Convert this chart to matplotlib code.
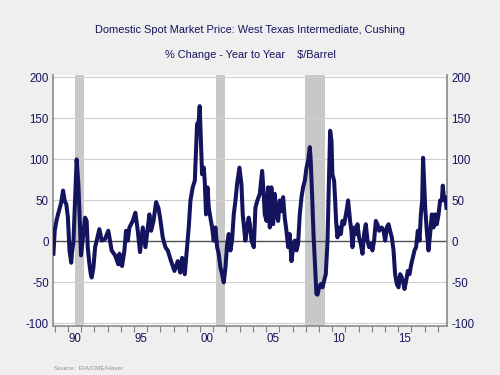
import matplotlib.pyplot as plt

# year-over-year % change, WTI spot
years = [1988.89, 1988.99, 1989.12, 1989.24, 1989.37, 1989.49, 1989.62, 1989.74, 1989.87, 1989.99,
         1990.11, 1990.19, 1990.24, 1990.29, 1990.41, 1990.53, 1990.65, 1990.78, 1990.90, 1990.98,
         1991.16, 1991.29, 1991.41, 1991.49, 1991.62, 1991.72, 1991.79, 1991.92, 1992.05, 1992.17,
         1992.37, 1992.55, 1992.80, 1993.05, 1993.30, 1993.56, 1993.81,
         1993.89, 1994.09, 1994.27, 1994.39, 1994.52, 1994.65, 1994.90, 1995.10, 1995.28, 1995.45,
         1995.66, 1995.86, 1996.04, 1996.16, 1996.29, 1996.47, 1996.67, 1996.84, 1996.97, 1997.17,
         1997.37, 1997.55, 1997.80, 1998.06, 1998.31, 1998.50,
         1998.64, 1998.84, 1999.01, 1999.14, 1999.27, 1999.44, 1999.60, 1999.77, 1999.90, 1999.97,
         2000.08, 2000.15, 2000.28, 2000.35, 2000.45, 2000.56, 2000.66, 2000.78, 2000.91, 2001.03,
         2001.16, 2001.29, 2001.41, 2001.54, 2001.67, 2001.79, 2001.92, 2002.05, 2002.17, 2002.30,
         2002.42, 2002.55, 2002.68, 2002.80, 2002.98, 2003.13, 2003.23, 2003.33, 2003.43, 2003.56,
         2003.68,
         2003.77, 2003.89, 2004.07, 2004.19, 2004.34, 2004.52, 2004.70, 2004.80, 2004.90, 2005.03,
         2005.15, 2005.28, 2005.40, 2005.53, 2005.66, 2005.78, 2005.91, 2006.04, 2006.16, 2006.29,
         2006.41, 2006.54, 2006.67, 2006.79, 2006.92, 2007.05, 2007.17, 2007.30, 2007.42, 2007.55,
         2007.68, 2007.80, 2007.93, 2008.06, 2008.18, 2008.31, 2008.38, 2008.48, 2008.59, 2008.69,
         2008.81, 2008.89, 2009.01, 2009.14, 2009.27, 2009.39, 2009.52, 2009.65, 2009.72, 2009.80,
         2009.85, 2009.95, 2010.02, 2010.15, 2010.23, 2010.30, 2010.40, 2010.53, 2010.66, 2010.78,
         2010.91, 2011.09, 2011.21, 2011.36, 2011.46, 2011.54, 2011.67, 2011.79, 2011.92, 2012.04,
         2012.17, 2012.30, 2012.42, 2012.55, 2012.68, 2012.80, 2012.93, 2013.05, 2013.18, 2013.31,
         2013.43, 2013.56,
         2013.76, 2013.89, 2014.02, 2014.14, 2014.27, 2014.39, 2014.52, 2014.65, 2014.77, 2014.90,
         2015.03, 2015.15, 2015.28, 2015.41, 2015.48, 2015.61, 2015.73, 2015.86, 2015.99, 2016.11,
         2016.24, 2016.36, 2016.49, 2016.62, 2016.72, 2016.82, 2016.89, 2016.97, 2017.05, 2017.17,
         2017.30, 2017.42, 2017.55, 2017.68, 2017.80, 2017.93, 2018.06, 2018.18, 2018.31, 2018.38,
         2018.48, 2018.58, 2018.66]
pct_change = [-15, 13, 25, 33, 41, 48, 62, 50, 45, 29,
              -11, -20, -26, -15, 0, 50, 100, 70, 21, -17,
              9, 29, 25, -7, -28, -40, -44, -32, -7, 1,
              15, 1, 3, 13, -11, -17, -28,
              -15, -30, -11, 13, 1, 17, 25, 35, 13, -13,
              17, -7, 17, 33, 13, 25, 48, 41, 29, 5,
              -7, -11, -24, -36, -24, -38,
              -20, -40, -7, 17, 50, 66, 74, 143, 147, 165,
              115, 82, 90, 74, 33, 66, 41, 29, 17, 1,
              17, -7, -15, -32, -40, -50, -32, -3, 9, -11,
              1, 33, 50, 70, 90, 70, 33, 17, 1, 17,
              29,
              21, 1, -7, 41, 50, 58, 86, 62, 33, 25,
              66, 17, 66, 21, 58, 33, 25, 50, 37, 54,
              29, 13, -7, 9, -24, -7, 1, -11, -3, 33,
              54, 66, 74, 90, 98, 115, 98, 58, 9, -24,
              -64, -65, -56, -52, -56, -48, -40, 1, 50, 102,
              135, 123, 82, 74, 50, 25, 5, 17, 9, 25,
              21, 37, 50, 25, 13, -7, 17, 9, 21, 5,
              -3, -15, 9, 21, 1, -7, -3, -11, 1, 25,
              21, 13,
              17, 13, 1, 17, 21, 13, 5, -11, -40, -52,
              -56, -40, -44, -52, -58, -48, -36, -40, -28, -20,
              -11, -7, 13, 1, 33, 50, 102, 70, 41, 13,
              -11, 9, 33, 17, 33, 21, 33, 50, 50, 68,
              50, 54, 41]

# recessions
rec_start = [1990.54, 2001.21, 2007.96]
rec_end = [1991.21, 2001.88, 2009.46]

yticks = [-100, -50, 0, 50, 100, 150, 200]
year_labels = ['90', '95', '00', '05', '10', '15']
label_years = [1990, 1995, 2000, 2005, 2010, 2015]

navy = '#14145e'
bg = '#efefef'

fig = plt.figure(figsize=(5, 3.75), dpi=100, facecolor=bg)
ax = fig.add_axes([0.106, 0.131, 0.788, 0.669])
ax.set_facecolor('white')

for s, e in zip(rec_start, rec_end):
    ax.axvspan(s, e, color='#c8c8c8', lw=0, zorder=1)

for y in yticks:
    if y == 0:
        ax.axhline(y, color='#505050', lw=1.0, zorder=2)
    else:
        ax.axhline(y, color='#cfcfcf', lw=0.8, zorder=2)

ax.plot(years, pct_change, color=navy, lw=2.9, zorder=3, solid_joinstyle='round')

ax.set_xlim(1988.86, 2018.7)
ax.set_ylim(-103, 203)

ax.set_yticks(yticks)
ax.set_yticklabels([str(v) for v in yticks])
ax.tick_params(axis='y', which='both', direction='in', length=3, color='#808080',
               labelsize=8.3, labelcolor=navy, left=True, right=True,
               labelleft=True, labelright=True, pad=3)

ax.set_xticks(list(range(1989, 2019)))
ax.set_xticklabels([])
ax.set_xticks([y + 0.5 for y in label_years], minor=True)
ax.set_xticklabels(year_labels, minor=True)
ax.tick_params(axis='x', which='major', direction='out', length=4, color='#808080')
ax.tick_params(axis='x', which='minor', length=0, labelsize=8.3, labelcolor=navy, pad=5)

for side in ['left', 'right', 'bottom']:
    ax.spines[side].set_color('#8a8a8a')
    ax.spines[side].set_linewidth(1.2)
ax.spines['top'].set_visible(False)

fig.text(0.5, 0.92, 'Domestic Spot Market Price: West Texas Intermediate, Cushing',
         ha='center', va='center', fontsize=7.9, color=navy, family='Liberation Sans')
fig.text(0.5, 0.853, '% Change - Year to Year    $/Barrel',
         ha='center', va='center', fontsize=7.9, color=navy, family='Liberation Sans')
fig.text(0.108, 0.012, 'Source:  EIA/CME/Haver', ha='left', va='bottom',
         fontsize=4.5, color='#909090', family='Liberation Sans')

for lab in ax.get_yticklabels() + ax.get_xticklabels(minor=True):
    lab.set_family('Liberation Sans')

plt.savefig('out.png', dpi=100, facecolor=bg)
